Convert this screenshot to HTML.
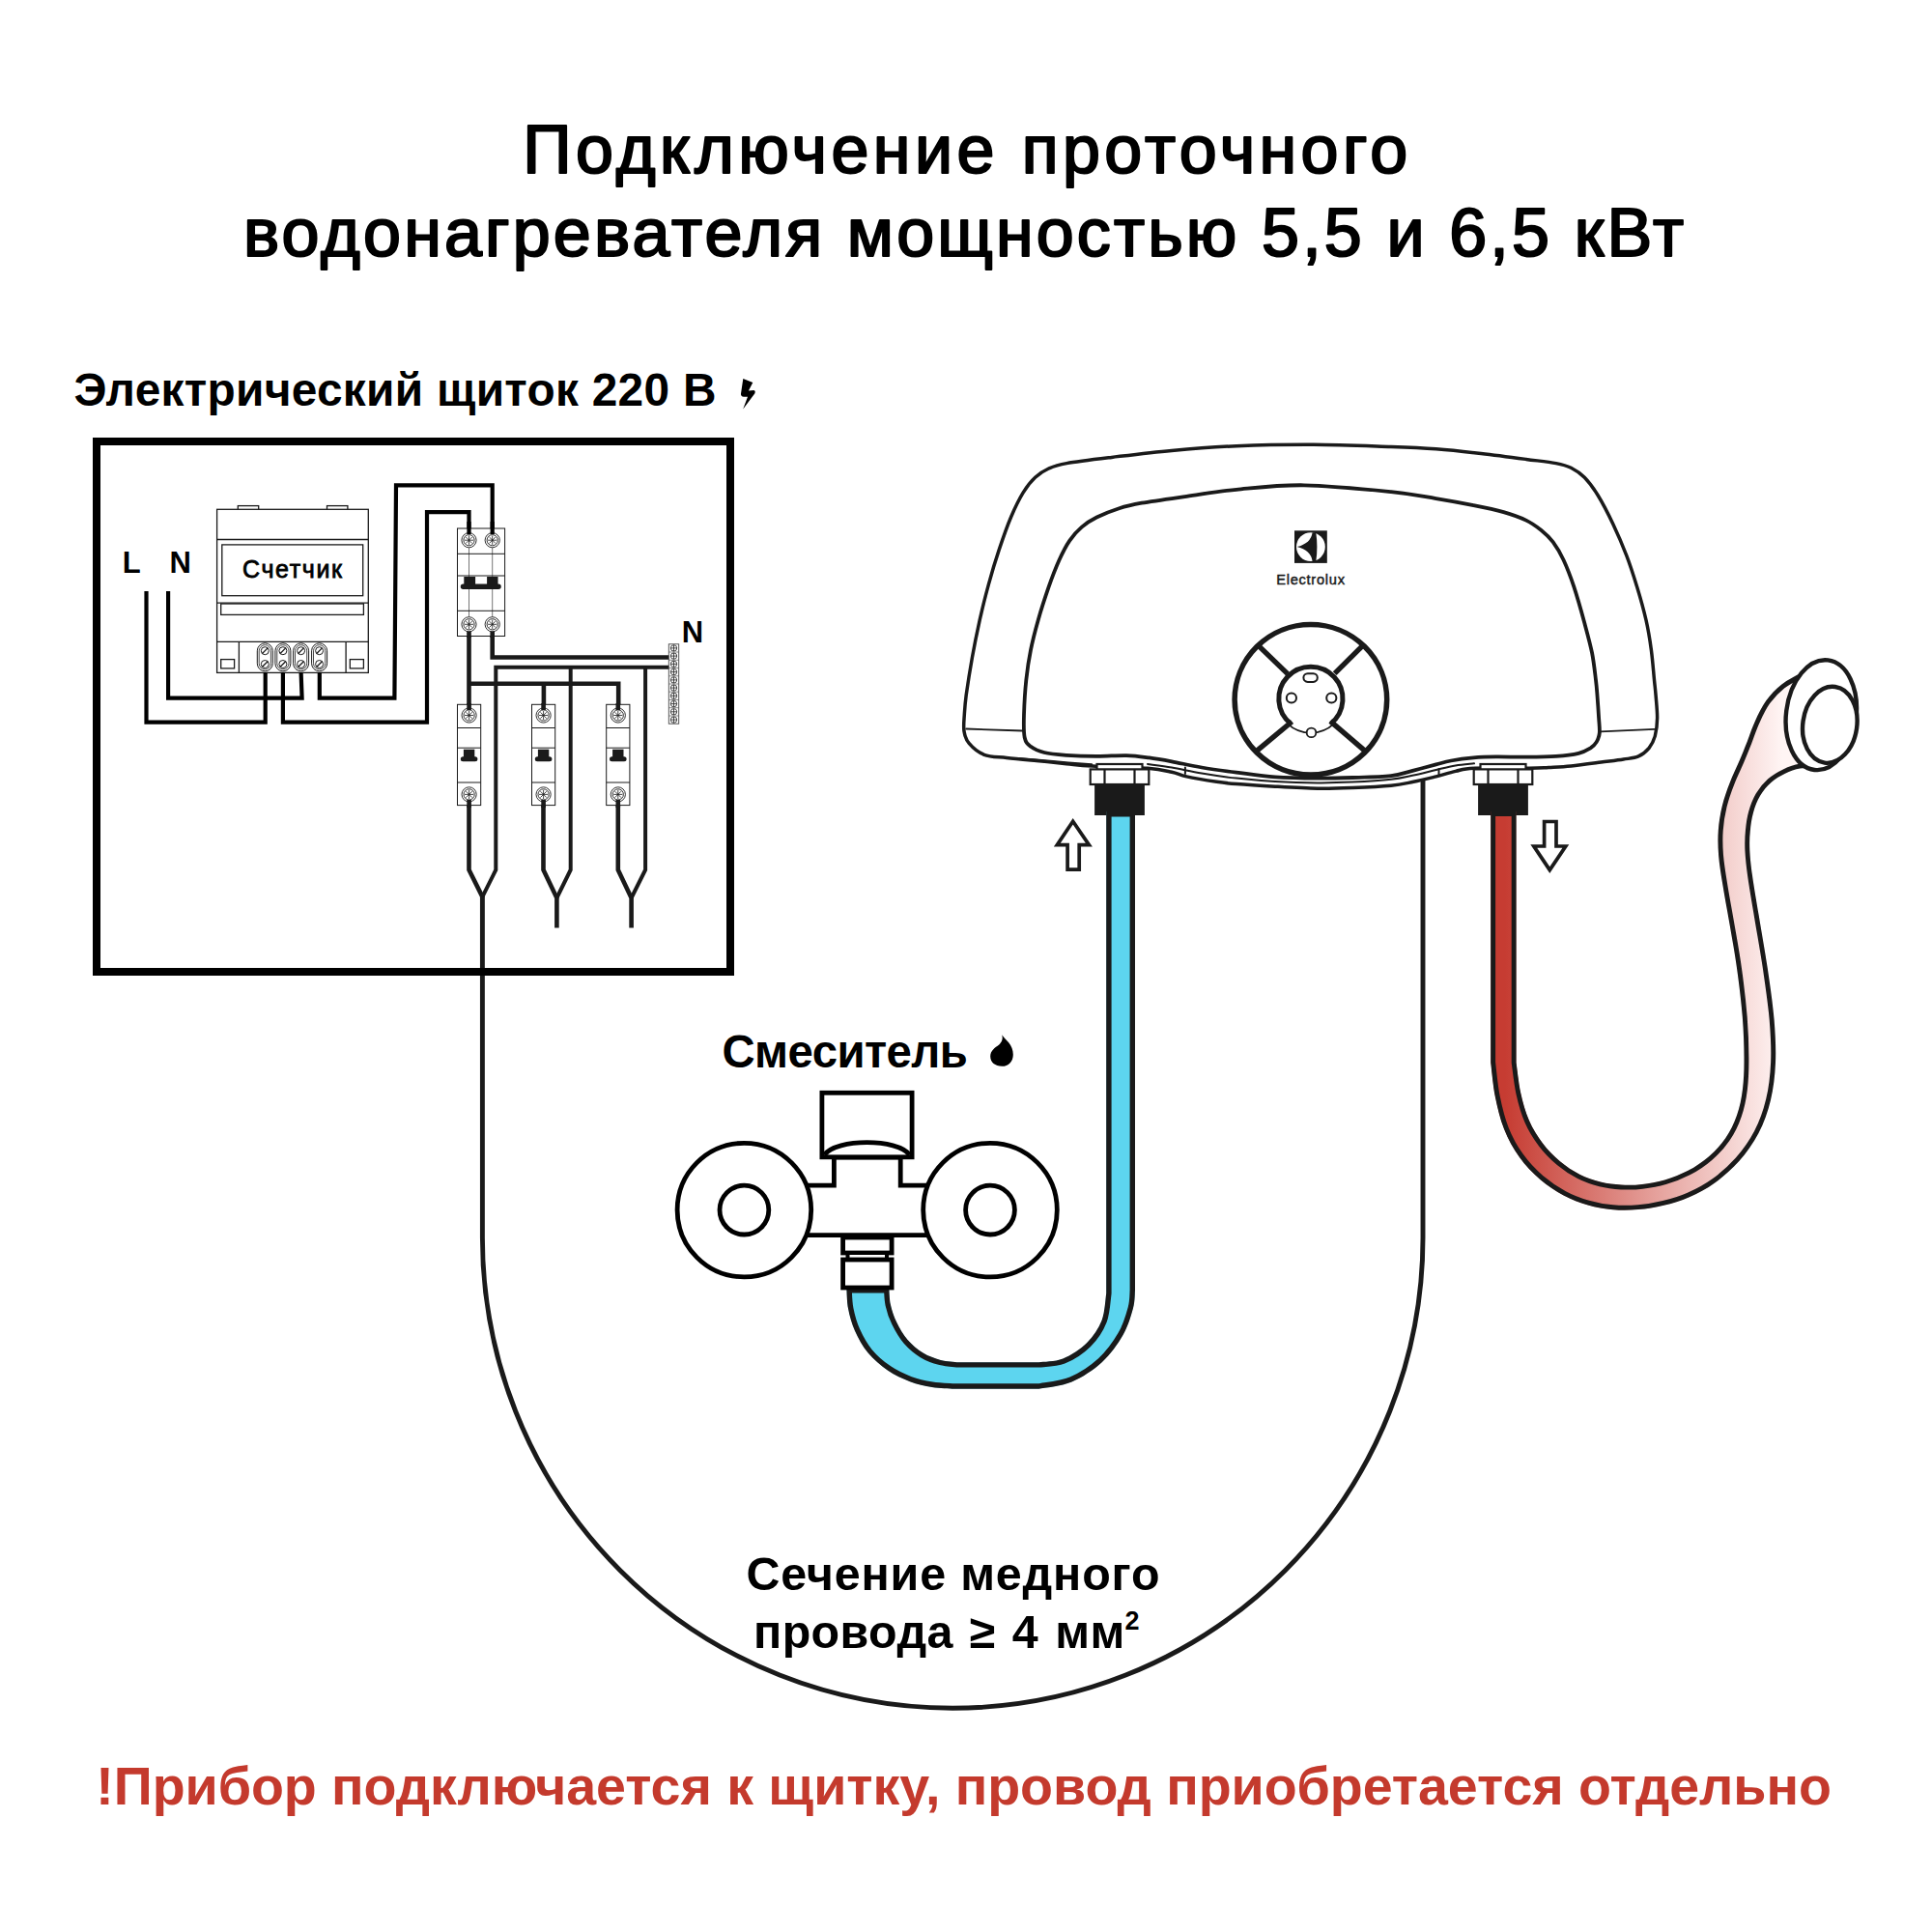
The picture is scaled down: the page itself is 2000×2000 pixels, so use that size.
<!DOCTYPE html>
<html lang="ru"><head><meta charset="utf-8"><title>Подключение проточного водонагревателя</title>
<style>
html,body{margin:0;padding:0;background:#fff;}
body{width:2000px;height:2000px;overflow:hidden;}
svg{display:block;}
text{font-family:"Liberation Sans",sans-serif;}
.t1{font-size:70px;fill:#000;stroke:#000;stroke-width:2.1px;stroke-linejoin:round;}
.b{font-weight:700;}
</style></head><body>
<svg width="2000" height="2000" viewBox="0 0 2000 2000">
<defs>
<linearGradient id="hg" gradientUnits="userSpaceOnUse" x1="1558" y1="0" x2="1845" y2="0">
<stop offset="0" stop-color="#c63c32"/><stop offset="1" stop-color="#fff5f4"/>
</linearGradient>
<g id="scr"><circle r="7.6" fill="#fff" stroke="#1a1a1a" stroke-width="0.9"/><circle r="5.6" fill="none" stroke="#1a1a1a" stroke-width="0.9"/><path d="M-4.6 0H4.6M0 -4.6V4.6M-3.2 -3.2L3.2 3.2M-3.2 3.2L3.2 -3.2" stroke="#1a1a1a" stroke-width="0.8" fill="none"/></g>
<g id="mscr"><circle r="4" fill="#fff" stroke="#1a1a1a" stroke-width="1"/><path d="M-2.8 2.8L2.8 -2.8" stroke="#1a1a1a" stroke-width="1.3"/></g>
<g id="nscr"><circle r="3.2" fill="#fff" stroke="#333" stroke-width="0.9"/><path d="M-3.2 0H3.2M0 -3.2V3.2" stroke="#333" stroke-width="0.9"/></g>
</defs>

<text class="t1" x="541.3" y="178.8" textLength="916" lengthAdjust="spacing">Подключение проточного</text>
<text class="t1" x="252" y="264.6" textLength="1491" lengthAdjust="spacing">водонагревателя мощностью 5,5 и 6,5 кВт</text>
<text class="b" x="76.5" y="420" font-size="47.8" textLength="665" lengthAdjust="spacing">Электрический щиток 220 В</text>
<path d="M769.3 392.1L779.3 396L774.9 404.4L780 404.1Q782.5 404.3 781.4 407.2L769.2 423.5L774 410.8L770 410.8Q766.6 410.5 767 407.5Z" fill="#000"/>
<path d="M499.4 928V1281.6A486.8 486.8 0 0 0 1473 1281.6V806" fill="none" stroke="#1a1a1a" stroke-width="4.9"/>
<rect x="100" y="457" width="656" height="549" fill="none" stroke="#000" stroke-width="8"/>
<g fill="#fff" stroke="#1a1a1a" stroke-width="1.3">
<rect x="246.3" y="523.6" width="21.4" height="5"/><rect x="338.5" y="523.6" width="21.4" height="5"/>
<rect x="224.6" y="527.3" width="156.7" height="169.1"/>
<path d="M224.6 558.5H381.3M224.6 624.2H381.3M224.6 664.3H381.3M247.4 664.3V696.4M358.1 664.3V696.4" fill="none"/>
<rect x="229.8" y="563.9" width="145.9" height="52.8"/>
<rect x="228.7" y="625" width="147.7" height="11.4"/>
<rect x="228.7" y="682.6" width="13.9" height="9.3"/><rect x="362.3" y="682.6" width="14.1" height="9.3"/>
<rect x="266.3" y="665.8" width="16" height="29" rx="8" stroke-width="1"/>
<rect x="268.2" y="667.7" width="12.2" height="25.2" rx="6.1" stroke-width="0.8"/>
<rect x="284.9" y="665.8" width="16" height="29" rx="8" stroke-width="1"/>
<rect x="286.8" y="667.7" width="12.2" height="25.2" rx="6.1" stroke-width="0.8"/>
<rect x="303.6" y="665.8" width="16" height="29" rx="8" stroke-width="1"/>
<rect x="305.5" y="667.7" width="12.2" height="25.2" rx="6.1" stroke-width="0.8"/>
<rect x="322.6" y="665.8" width="16" height="29" rx="8" stroke-width="1"/>
<rect x="324.5" y="667.7" width="12.2" height="25.2" rx="6.1" stroke-width="0.8"/>
</g>
<use href="#mscr" x="274.3" y="673.7"/><use href="#mscr" x="274.3" y="687.5"/>
<use href="#mscr" x="292.9" y="673.7"/><use href="#mscr" x="292.9" y="687.5"/>
<use href="#mscr" x="311.6" y="673.7"/><use href="#mscr" x="311.6" y="687.5"/>
<use href="#mscr" x="330.6" y="673.7"/><use href="#mscr" x="330.6" y="687.5"/>
<text x="251" y="598" font-size="25" textLength="103" lengthAdjust="spacing" stroke="#000" stroke-width="0.8">Счетчик</text>
<text class="b" x="126.8" y="593" font-size="31">L</text>
<text class="b" x="175.6" y="593" font-size="31">N</text>
<text class="b" x="705.7" y="665" font-size="31">N</text>
<g fill="none" stroke="#000" stroke-width="4.2" stroke-linejoin="miter">
<path d="M151.5 612V747.6H274.7V696"/>
<path d="M174.1 612V722.7H312.6L311.6 696"/>
<path d="M330.8 696V722.7H408.4L410 502.4H509.7V552"/>
<path d="M292.9 696V747.6H442V530.2H485.5V552"/>
</g>
<g fill="none" stroke="#1a1a1a" stroke-width="4.6" stroke-linejoin="miter">
<path d="M485.5 654V900.5L499.4 928.4"/>
<path d="M485.5 707.8H640.2V735M562.9 707.8V735"/>
<path d="M509.7 654V680.5H694"/>
<path d="M694 690.8H513.3V900.5L499.4 928.4M590.7 690.8V900.5L576.4 929.5M668.1 690.8V900.5L653.6 929.5" stroke-width="4"/>
<path d="M562.5 830V900.5L576.4 929.5V960.5M639.8 830V900.5L653.6 929.5V960.5"/>
</g>
<g fill="#fff" stroke="#1a1a1a" stroke-width="1">
<rect x="473.5" y="547" width="49.1" height="111.5"/>
<path d="M473.5 573.3H522.6M473.5 596H522.6M473.5 632.3H522.6" fill="none"/>
<path d="M485.5 567V639M509.7 567V639" fill="none" stroke-width="0.6"/>
</g>
<path d="M480.3 597H492.1V604.5H504.1V597H515.5V604.5H516A2.7 2.7 0 0 1 516 610H479.5A2.7 2.7 0 0 1 479.5 604.5H480.3Z" fill="#1a1a1a"/>
<use href="#scr" x="485.5" y="559.2"/>
<use href="#scr" x="509.7" y="559.2"/>
<use href="#scr" x="485.5" y="646.3"/>
<use href="#scr" x="509.7" y="646.3"/>
<g fill="none" stroke="#000" stroke-width="4.2"><path d="M509.7 540V553M485.5 540V553"/></g>
<g fill="none" stroke="#1a1a1a" stroke-width="4.6"><path d="M485.5 653.5V660M509.7 653.5V660"/></g>
<g fill="#fff" stroke="#1a1a1a" stroke-width="1">
<rect x="473.5" y="729.3" width="24.2" height="104.3"/>
<path d="M473.5 753.5h24.2M473.5 774.2h24.2M473.5 810h24.2" fill="none"/>
</g>
<path d="M479.9 775.7h11.4v7.5h0.6a2.5 2.5 0 0 1 0 5h-12.6a2.5 2.5 0 0 1 0 -5h0.6Z" fill="#1a1a1a"/>
<use href="#scr" x="485.6" y="740.5"/><use href="#scr" x="485.6" y="822.4"/>
<path d="M485.6 728V735M485.6 828V836" fill="none" stroke="#1a1a1a" stroke-width="4.6"/>
<g fill="#fff" stroke="#1a1a1a" stroke-width="1">
<rect x="550.5" y="729.3" width="24.2" height="104.3"/>
<path d="M550.5 753.5h24.2M550.5 774.2h24.2M550.5 810h24.2" fill="none"/>
</g>
<path d="M556.9 775.7h11.4v7.5h0.6a2.5 2.5 0 0 1 0 5h-12.6a2.5 2.5 0 0 1 0 -5h0.6Z" fill="#1a1a1a"/>
<use href="#scr" x="562.6" y="740.5"/><use href="#scr" x="562.6" y="822.4"/>
<path d="M562.6 728V735M562.6 828V836" fill="none" stroke="#1a1a1a" stroke-width="4.6"/>
<g fill="#fff" stroke="#1a1a1a" stroke-width="1">
<rect x="627.7" y="729.3" width="24.2" height="104.3"/>
<path d="M627.7 753.5h24.2M627.7 774.2h24.2M627.7 810h24.2" fill="none"/>
</g>
<path d="M634.1 775.7h11.4v7.5h0.6a2.5 2.5 0 0 1 0 5h-12.6a2.5 2.5 0 0 1 0 -5h0.6Z" fill="#1a1a1a"/>
<use href="#scr" x="639.8" y="740.5"/><use href="#scr" x="639.8" y="822.4"/>
<path d="M639.8 728V735M639.8 828V836" fill="none" stroke="#1a1a1a" stroke-width="4.6"/>
<rect x="692.3" y="666.8" width="10.4" height="82.4" fill="#fff" stroke="#444" stroke-width="0.9"/>
<path d="M692.3 675.0h10.4M692.3 683.3h10.4M692.3 691.5h10.4M692.3 699.8h10.4M692.3 708.0h10.4M692.3 716.2h10.4M692.3 724.5h10.4M692.3 732.7h10.4M692.3 741.0h10.4" fill="none" stroke="#555" stroke-width="0.7"/>
<use href="#nscr" x="697.5" y="670.9"/>
<use href="#nscr" x="697.5" y="679.1"/>
<use href="#nscr" x="697.5" y="687.4"/>
<use href="#nscr" x="697.5" y="695.6"/>
<use href="#nscr" x="697.5" y="703.9"/>
<use href="#nscr" x="697.5" y="712.1"/>
<use href="#nscr" x="697.5" y="720.3"/>
<use href="#nscr" x="697.5" y="728.6"/>
<use href="#nscr" x="697.5" y="736.8"/>
<use href="#nscr" x="697.5" y="745.1"/>
<g fill="#fff" stroke="#1a1a1a" stroke-width="3.5" stroke-linejoin="round" stroke-linecap="round">
<path d="M998.3 740.0 C998.7 733.8 998.9 729.4 1000.2 719.5 C1001.6 709.6 1004.1 693.6 1006.4 680.7 C1008.7 667.8 1011.4 654.6 1014.2 641.9 C1017.1 629.2 1020.1 616.8 1023.5 604.6 C1026.8 592.4 1030.4 580.5 1034.3 568.9 C1038.2 557.2 1042.6 544.5 1046.8 534.7 C1051.0 524.9 1055.1 516.6 1059.2 509.9 C1063.3 503.2 1067.2 498.4 1071.6 494.3 C1076.0 490.2 1080.2 487.4 1085.6 485.0 C1091.0 482.6 1093.3 481.5 1104.2 479.6 C1115.1 477.7 1132.7 475.6 1150.8 473.4 C1168.9 471.2 1191.4 468.3 1212.9 466.4 C1234.4 464.4 1255.5 462.7 1280.0 461.7 C1304.5 460.7 1333.3 460.2 1360.0 460.3 C1386.7 460.4 1418.9 461.8 1440.0 462.5 C1461.1 463.2 1471.1 463.6 1486.6 464.8 C1502.1 466.0 1517.7 467.7 1533.2 469.5 C1548.7 471.3 1566.9 473.7 1579.8 475.4 C1592.7 477.1 1603.0 478.1 1610.8 479.6 C1618.5 481.1 1621.4 481.9 1626.3 484.3 C1631.2 486.8 1635.6 489.5 1640.3 494.3 C1645.0 499.1 1649.4 505.0 1654.3 513.0 C1659.2 521.0 1664.9 532.1 1669.8 542.5 C1674.7 552.9 1679.6 564.2 1683.8 575.1 C1688.0 586.0 1691.3 596.6 1694.7 607.7 C1698.1 618.8 1701.5 631.0 1704.0 641.9 C1706.5 652.8 1708.0 662.5 1709.4 672.9 C1710.8 683.2 1711.7 696.1 1712.5 704.0 C1713.3 711.9 1713.6 713.5 1714.1 720.0 C1714.6 726.5 1715.7 736.3 1715.6 743.3 C1715.5 750.3 1714.7 756.7 1713.3 761.9 C1711.9 767.1 1709.9 770.8 1707.1 774.3 C1704.2 777.8 1700.6 780.9 1696.2 782.9 C1691.8 784.9 1687.2 785.0 1680.7 786.0 C1674.2 787.0 1666.5 787.9 1657.4 789.1 C1648.3 790.3 1635.4 792.1 1626.3 793.0 C1617.2 793.9 1610.2 794.1 1603.0 794.5 C1595.8 794.9 1595.7 795.2 1582.9 795.3 C1570.1 795.4 1538.9 794.8 1526.2 795.3 C1513.5 795.8 1513.4 797.0 1506.8 798.4 C1500.2 799.8 1493.8 802.1 1486.6 803.9 C1479.3 805.7 1471.1 807.8 1463.3 809.3 C1455.5 810.8 1450.5 812.2 1440.0 813.2 C1429.5 814.2 1412.7 815.0 1400.0 815.5 C1387.3 816.0 1377.3 816.4 1364.0 816.2 C1350.7 816.0 1334.0 815.0 1320.0 814.2 C1306.0 813.4 1290.1 812.4 1280.0 811.6 C1269.9 810.8 1268.1 810.6 1259.5 809.3 C1250.9 808.0 1236.2 805.6 1228.4 803.9 C1220.7 802.2 1219.7 800.6 1213.0 799.2 C1206.3 797.8 1201.7 796.3 1188.0 795.3 C1174.3 794.3 1144.6 793.8 1130.6 793.0 C1116.6 792.2 1113.6 791.6 1104.0 790.7 C1094.4 789.8 1083.3 788.5 1073.0 787.5 C1062.7 786.5 1051.0 785.4 1042.0 784.4 C1033.0 783.4 1025.2 783.8 1018.8 781.3 C1012.3 778.8 1006.8 773.8 1003.3 769.7 C999.8 765.7 998.8 762.0 998.0 757.0 C997.2 752.0 997.9 746.2 998.3 740.0Z"/>
<path d="M1054.5 785.2 C1060.4 785.7 1077.4 787.2 1090.0 788.3 C1102.6 789.3 1123.3 791.0 1130.0 791.5" fill="none" stroke-width="2.4"/>
<path d="M1188.0 791.0 C1192.2 791.6 1203.7 792.9 1213.0 794.5 C1222.3 796.1 1232.8 798.6 1244.0 800.5 C1255.2 802.4 1267.3 804.2 1280.0 805.6 C1292.7 807.0 1306.0 808.2 1320.0 809.0 C1334.0 809.8 1350.7 810.3 1364.0 810.4 C1377.3 810.5 1387.3 810.2 1400.0 809.6 C1412.7 809.0 1429.5 808.0 1440.0 806.8 C1450.5 805.6 1455.5 804.1 1463.3 802.5 C1471.1 800.9 1479.3 798.7 1486.6 797.0 C1493.8 795.3 1500.2 793.6 1506.8 792.5 C1513.4 791.4 1522.8 790.7 1526.0 790.3" fill="none" stroke-width="2"/>
<path d="M1226.9 794.5V801M1489.5 796V802.5" fill="none" stroke-width="2"/>
<path d="M1060.0 740.0 C1060.3 730.1 1061.1 715.2 1062.3 704.0 C1063.5 692.8 1064.9 683.2 1067.0 672.9 C1069.1 662.5 1071.6 652.8 1074.7 641.9 C1077.8 631.0 1082.0 618.1 1085.6 607.7 C1089.2 597.4 1092.9 587.8 1096.5 579.8 C1100.1 571.8 1103.4 565.3 1107.3 559.6 C1111.2 553.9 1115.1 549.6 1119.8 545.6 C1124.5 541.6 1128.8 538.7 1135.3 535.5 C1141.8 532.3 1150.8 528.7 1158.6 526.2 C1166.4 523.7 1170.3 522.8 1181.9 520.7 C1193.5 518.6 1212.1 516.1 1228.4 513.8 C1244.8 511.5 1259.7 508.7 1280.0 506.8 C1300.3 504.9 1323.3 501.9 1350.0 502.3 C1376.7 502.7 1417.2 506.8 1440.0 509.1 C1462.8 511.4 1472.4 513.8 1486.6 516.1 C1500.8 518.4 1513.8 520.8 1525.4 523.1 C1537.1 525.4 1547.4 527.5 1556.5 530.1 C1565.6 532.7 1573.3 535.5 1579.8 538.6 C1586.3 541.7 1590.6 545.0 1595.3 548.7 C1600.0 552.5 1603.8 555.9 1607.7 561.1 C1611.6 566.3 1615.0 572.0 1618.6 579.8 C1622.2 587.6 1625.8 596.8 1629.4 607.7 C1633.0 618.6 1637.2 633.6 1640.3 645.0 C1643.4 656.4 1646.1 666.2 1648.1 676.0 C1650.0 685.8 1651.1 696.7 1652.0 704.0 C1652.9 711.3 1653.0 713.5 1653.5 720.0 C1654.0 726.5 1654.7 736.8 1655.1 743.3 C1655.5 749.8 1656.2 754.7 1655.8 758.8 C1655.4 762.9 1654.2 765.5 1652.7 768.1 C1651.2 770.7 1649.6 772.3 1646.5 774.3 C1643.4 776.2 1640.0 778.4 1634.1 779.8 C1628.1 781.2 1619.8 782.2 1610.8 782.9 C1601.8 783.5 1590.1 783.6 1579.8 783.7 C1569.5 783.8 1557.8 783.3 1548.7 783.4 C1539.6 783.5 1533.2 783.7 1525.4 784.4 C1517.6 785.1 1508.6 786.3 1502.1 787.5 C1495.6 788.7 1493.1 789.7 1486.6 791.4 C1480.1 793.1 1471.1 795.6 1463.3 797.6 C1455.5 799.6 1450.5 801.9 1440.0 803.1 C1429.5 804.3 1412.7 804.6 1400.0 805.0 C1387.3 805.4 1377.3 805.7 1364.0 805.6 C1350.7 805.5 1334.0 805.3 1320.0 804.3 C1306.0 803.3 1292.7 801.2 1280.0 799.6 C1267.3 798.0 1255.2 796.4 1244.0 794.5 C1232.8 792.6 1222.1 790.0 1213.0 788.3 C1203.9 786.6 1197.4 785.4 1189.6 784.4 C1181.8 783.4 1175.1 782.4 1166.0 782.1 C1156.9 781.9 1145.3 783.0 1135.0 782.9 C1124.7 782.8 1113.0 782.4 1104.0 781.8 C1095.0 781.1 1087.2 780.5 1081.0 779.0 C1074.8 777.5 1070.4 775.4 1067.0 772.8 C1063.6 770.2 1061.9 769.0 1060.7 763.5 C1059.5 758.0 1059.7 749.9 1060.0 740.0Z" stroke-width="3.8"/>
<path d="M1000.2 754.5L1058.4 756.5M1656.6 757.3L1712.5 754.9" fill="none" stroke-width="1.8"/>
</g>
<g fill="none" stroke="#1a1a1a">
<ellipse cx="1356.9" cy="724.3" rx="78.8" ry="77.8" stroke-width="5.5" fill="#fff"/>
<path d="M1336.1 749.1A33.1 33.1 0 1 1 1377.7 749.1" stroke-width="5"/>
<path d="M1332.8 749.2A35.3 35.3 0 0 0 1381.0 749.2" stroke-width="1.7"/>
<path d="M1303.0 668.6L1333.0 697.6" stroke-width="5.4"/>
<path d="M1410.4 668.6L1381.7 697.2" stroke-width="5.4"/>
<path d="M1300.6 777.6L1337.4 747.0" stroke-width="5.4"/>
<path d="M1413.4 777.6L1377.2 746.6" stroke-width="5.4"/>
<circle cx="1336.9" cy="722.5" r="5.1" stroke-width="2" fill="#fff"/><circle cx="1378.3" cy="722.5" r="5.1" stroke-width="2" fill="#fff"/><circle cx="1357.5" cy="758.4" r="4.8" stroke-width="1.8" fill="#fff"/>
<rect x="1349.4" y="697.3" width="14.4" height="8.6" rx="4.3" stroke-width="2" fill="#fff"/>
</g>
<rect x="1340" y="549.3" width="33.8" height="33.6" fill="#1a1a1a"/>
<circle cx="1356.9" cy="566.1" r="14.9" fill="#fff"/>
<path d="M1358.6 551.2Q1357 562.5 1342.6 566.1Q1357 569.7 1358.6 581H1362.3Q1364.5 566.1 1362.3 551.2Z" fill="#1a1a1a"/>
<text x="1321.2" y="605.2" font-size="14.6" textLength="70.8" lengthAdjust="spacing" stroke="#1a1a1a" stroke-width="0.45" fill="#1a1a1a">Electrolux</text>
<g fill="#fff" stroke="#1a1a1a" stroke-width="2.2">
<rect x="1135.5" y="791" width="47" height="6"/>
<rect x="1128.7" y="796.4" width="60.6" height="15.6"/>
<path d="M1143.5 796.4v15.6M1174.5 796.4v15.6" fill="none"/>
</g>
<rect x="1133.1" y="812" width="51.8" height="32" fill="#1a1a1a"/>
<g fill="#fff" stroke="#1a1a1a" stroke-width="2.2">
<rect x="1532.5" y="791" width="47" height="6"/>
<rect x="1525.7" y="796.4" width="60.6" height="15.6"/>
<path d="M1540.5 796.4v15.6M1571.5 796.4v15.6" fill="none"/>
</g>
<rect x="1530.1" y="812" width="51.8" height="32" fill="#1a1a1a"/>
<clipPath id="cb"><path d="M1175.0 840.0 L1175.0 1335.7 C1174.7 1338.8 1175.1 1346.5 1173.0 1354.3 C1170.9 1362.1 1167.8 1373.0 1162.4 1382.3 C1157.0 1391.6 1149.5 1402.2 1140.7 1410.2 C1131.9 1418.2 1120.5 1425.8 1109.6 1430.4 C1098.7 1435.0 1081.2 1436.5 1075.5 1437.7 L987.4 1437.7 C983.6 1437.4 972.3 1437.2 964.7 1435.9 C957.1 1434.7 949.5 1433.1 941.9 1430.2 C934.3 1427.3 926.3 1423.7 919.1 1418.8 C911.9 1413.9 904.3 1407.4 898.6 1400.6 C892.9 1393.8 888.4 1385.4 885.0 1377.8 C881.6 1370.2 879.6 1362.6 878.1 1355.1 C876.6 1347.6 876.6 1336.7 876.3 1333.0 L920.3 1333.0 C920.6 1335.9 920.6 1344.5 921.9 1350.5 C923.2 1356.5 925.2 1362.6 928.2 1368.7 C931.2 1374.8 935.0 1381.7 939.6 1387.0 C944.2 1392.3 949.9 1397.1 955.6 1400.6 C961.3 1404.1 967.7 1406.3 973.8 1407.9 C979.9 1409.5 989.0 1409.8 992.0 1410.2 L1075.5 1410.2 C1079.6 1409.6 1092.0 1409.8 1100.3 1406.5 C1108.6 1403.2 1118.5 1396.7 1125.2 1390.1 C1131.9 1383.5 1137.3 1375.3 1140.6 1366.8 C1143.9 1358.2 1144.4 1343.5 1145.2 1338.8 L1145.2 840.0 Z"/></clipPath>
<path d="M1175.0 840.0 L1175.0 1335.7 C1174.7 1338.8 1175.1 1346.5 1173.0 1354.3 C1170.9 1362.1 1167.8 1373.0 1162.4 1382.3 C1157.0 1391.6 1149.5 1402.2 1140.7 1410.2 C1131.9 1418.2 1120.5 1425.8 1109.6 1430.4 C1098.7 1435.0 1081.2 1436.5 1075.5 1437.7 L987.4 1437.7 C983.6 1437.4 972.3 1437.2 964.7 1435.9 C957.1 1434.7 949.5 1433.1 941.9 1430.2 C934.3 1427.3 926.3 1423.7 919.1 1418.8 C911.9 1413.9 904.3 1407.4 898.6 1400.6 C892.9 1393.8 888.4 1385.4 885.0 1377.8 C881.6 1370.2 879.6 1362.6 878.1 1355.1 C876.6 1347.6 876.6 1336.7 876.3 1333.0 L920.3 1333.0 C920.6 1335.9 920.6 1344.5 921.9 1350.5 C923.2 1356.5 925.2 1362.6 928.2 1368.7 C931.2 1374.8 935.0 1381.7 939.6 1387.0 C944.2 1392.3 949.9 1397.1 955.6 1400.6 C961.3 1404.1 967.7 1406.3 973.8 1407.9 C979.9 1409.5 989.0 1409.8 992.0 1410.2 L1075.5 1410.2 C1079.6 1409.6 1092.0 1409.8 1100.3 1406.5 C1108.6 1403.2 1118.5 1396.7 1125.2 1390.1 C1131.9 1383.5 1137.3 1375.3 1140.6 1366.8 C1143.9 1358.2 1144.4 1343.5 1145.2 1338.8 L1145.2 840.0 Z" fill="#5dd5ef" stroke="#1a1a1a" stroke-width="10.8" stroke-linejoin="round" clip-path="url(#cb)"/>
<clipPath id="cr"><path d="M1543.2 840.0 L1543.2 1100.0 C1544.0 1105.9 1545.5 1123.8 1547.8 1135.2 C1550.1 1146.6 1552.8 1158.2 1557.0 1168.7 C1561.1 1179.1 1566.5 1189.0 1572.8 1197.7 C1579.0 1206.4 1586.7 1214.4 1594.3 1221.0 C1602.0 1227.6 1610.4 1233.1 1618.6 1237.5 C1626.8 1241.9 1635.1 1245.0 1643.7 1247.5 C1652.2 1250.0 1660.9 1251.5 1669.6 1252.2 C1678.3 1253.0 1687.2 1252.9 1696.0 1252.1 C1704.8 1251.4 1713.6 1250.0 1722.4 1247.8 C1731.2 1245.7 1740.0 1243.1 1748.8 1239.2 C1757.6 1235.4 1766.6 1230.7 1775.2 1224.5 C1783.8 1218.3 1792.7 1210.6 1800.3 1202.1 C1807.8 1193.5 1815.0 1183.6 1820.5 1173.0 C1826.0 1162.5 1830.1 1150.9 1833.0 1138.7 C1835.9 1126.6 1837.4 1114.0 1838.0 1100.1 C1838.6 1086.3 1837.9 1071.9 1836.6 1055.6 C1835.2 1039.3 1832.4 1020.3 1829.8 1002.4 C1827.1 984.5 1823.4 964.1 1820.8 948.1 C1818.1 932.1 1815.6 917.6 1814.0 906.2 C1812.4 894.9 1811.7 887.7 1811.3 880.0 C1811.0 872.3 1811.1 866.8 1811.8 860.3 C1812.4 853.8 1813.2 847.3 1815.0 841.2 C1816.7 835.1 1819.0 829.0 1822.1 823.8 C1825.2 818.6 1829.2 813.8 1833.5 810.0 C1837.8 806.1 1843.0 803.2 1848.0 800.8 C1853.0 798.4 1858.2 796.4 1863.5 795.6 C1868.8 794.8 1877.2 795.9 1880.0 796.0 L1880.0 692.0 C1877.4 692.8 1870.5 693.9 1864.6 696.7 C1858.7 699.5 1850.4 703.8 1844.4 708.5 C1838.3 713.3 1832.9 719.0 1828.3 725.2 C1823.8 731.5 1820.2 739.1 1817.0 746.2 C1813.7 753.2 1811.4 760.7 1808.7 767.7 C1805.9 774.6 1803.4 781.1 1800.4 788.1 C1797.4 795.1 1793.7 802.2 1790.8 809.9 C1787.8 817.5 1784.8 825.9 1782.8 834.2 C1780.8 842.5 1779.4 851.2 1778.8 859.7 C1778.2 868.3 1778.4 876.2 1779.1 885.4 C1779.9 894.6 1781.3 903.5 1783.2 915.0 C1785.0 926.6 1787.6 939.9 1790.1 954.6 C1792.6 969.2 1795.9 986.6 1798.1 1003.0 C1800.4 1019.3 1802.5 1037.4 1803.8 1052.8 C1805.0 1068.1 1805.5 1082.7 1805.5 1095.1 C1805.6 1107.5 1805.2 1117.4 1804.0 1127.3 C1802.8 1137.2 1801.0 1146.0 1798.0 1154.5 C1795.1 1163.1 1791.0 1171.2 1786.2 1178.3 C1781.3 1185.4 1775.5 1191.7 1769.0 1197.2 C1762.6 1202.8 1755.1 1207.7 1747.5 1211.8 C1739.8 1215.8 1731.2 1219.1 1723.3 1221.4 C1715.4 1223.8 1707.4 1225.1 1699.9 1225.9 C1692.5 1226.8 1685.6 1226.9 1678.4 1226.5 C1671.2 1226.1 1664.0 1225.3 1656.8 1223.5 C1649.7 1221.7 1642.2 1219.2 1635.3 1215.7 C1628.3 1212.2 1621.4 1207.6 1615.0 1202.3 C1608.6 1196.9 1602.3 1190.7 1597.0 1183.6 C1591.7 1176.5 1586.7 1168.6 1582.9 1159.8 C1579.1 1151.1 1576.4 1141.2 1574.2 1131.2 C1572.0 1121.3 1570.4 1105.2 1569.6 1100.0 L1569.6 840.0 Z"/></clipPath>
<path d="M1543.2 840.0 L1543.2 1100.0 C1544.0 1105.9 1545.5 1123.8 1547.8 1135.2 C1550.1 1146.6 1552.8 1158.2 1557.0 1168.7 C1561.1 1179.1 1566.5 1189.0 1572.8 1197.7 C1579.0 1206.4 1586.7 1214.4 1594.3 1221.0 C1602.0 1227.6 1610.4 1233.1 1618.6 1237.5 C1626.8 1241.9 1635.1 1245.0 1643.7 1247.5 C1652.2 1250.0 1660.9 1251.5 1669.6 1252.2 C1678.3 1253.0 1687.2 1252.9 1696.0 1252.1 C1704.8 1251.4 1713.6 1250.0 1722.4 1247.8 C1731.2 1245.7 1740.0 1243.1 1748.8 1239.2 C1757.6 1235.4 1766.6 1230.7 1775.2 1224.5 C1783.8 1218.3 1792.7 1210.6 1800.3 1202.1 C1807.8 1193.5 1815.0 1183.6 1820.5 1173.0 C1826.0 1162.5 1830.1 1150.9 1833.0 1138.7 C1835.9 1126.6 1837.4 1114.0 1838.0 1100.1 C1838.6 1086.3 1837.9 1071.9 1836.6 1055.6 C1835.2 1039.3 1832.4 1020.3 1829.8 1002.4 C1827.1 984.5 1823.4 964.1 1820.8 948.1 C1818.1 932.1 1815.6 917.6 1814.0 906.2 C1812.4 894.9 1811.7 887.7 1811.3 880.0 C1811.0 872.3 1811.1 866.8 1811.8 860.3 C1812.4 853.8 1813.2 847.3 1815.0 841.2 C1816.7 835.1 1819.0 829.0 1822.1 823.8 C1825.2 818.6 1829.2 813.8 1833.5 810.0 C1837.8 806.1 1843.0 803.2 1848.0 800.8 C1853.0 798.4 1858.2 796.4 1863.5 795.6 C1868.8 794.8 1877.2 795.9 1880.0 796.0 L1880.0 692.0 C1877.4 692.8 1870.5 693.9 1864.6 696.7 C1858.7 699.5 1850.4 703.8 1844.4 708.5 C1838.3 713.3 1832.9 719.0 1828.3 725.2 C1823.8 731.5 1820.2 739.1 1817.0 746.2 C1813.7 753.2 1811.4 760.7 1808.7 767.7 C1805.9 774.6 1803.4 781.1 1800.4 788.1 C1797.4 795.1 1793.7 802.2 1790.8 809.9 C1787.8 817.5 1784.8 825.9 1782.8 834.2 C1780.8 842.5 1779.4 851.2 1778.8 859.7 C1778.2 868.3 1778.4 876.2 1779.1 885.4 C1779.9 894.6 1781.3 903.5 1783.2 915.0 C1785.0 926.6 1787.6 939.9 1790.1 954.6 C1792.6 969.2 1795.9 986.6 1798.1 1003.0 C1800.4 1019.3 1802.5 1037.4 1803.8 1052.8 C1805.0 1068.1 1805.5 1082.7 1805.5 1095.1 C1805.6 1107.5 1805.2 1117.4 1804.0 1127.3 C1802.8 1137.2 1801.0 1146.0 1798.0 1154.5 C1795.1 1163.1 1791.0 1171.2 1786.2 1178.3 C1781.3 1185.4 1775.5 1191.7 1769.0 1197.2 C1762.6 1202.8 1755.1 1207.7 1747.5 1211.8 C1739.8 1215.8 1731.2 1219.1 1723.3 1221.4 C1715.4 1223.8 1707.4 1225.1 1699.9 1225.9 C1692.5 1226.8 1685.6 1226.9 1678.4 1226.5 C1671.2 1226.1 1664.0 1225.3 1656.8 1223.5 C1649.7 1221.7 1642.2 1219.2 1635.3 1215.7 C1628.3 1212.2 1621.4 1207.6 1615.0 1202.3 C1608.6 1196.9 1602.3 1190.7 1597.0 1183.6 C1591.7 1176.5 1586.7 1168.6 1582.9 1159.8 C1579.1 1151.1 1576.4 1141.2 1574.2 1131.2 C1572.0 1121.3 1570.4 1105.2 1569.6 1100.0 L1569.6 840.0 Z" fill="url(#hg)" stroke="#1a1a1a" stroke-width="9.8" stroke-linejoin="round" clip-path="url(#cr)"/>
<g fill="#fff" stroke="#1a1a1a" stroke-width="4.4">
<ellipse cx="1885.3" cy="740.2" rx="36.3" ry="57.2" transform="rotate(7 1885.3 740.2)"/>
<ellipse cx="1894.3" cy="750.3" rx="28" ry="39.7" transform="rotate(8 1894.3 750.3)"/>
</g>
<path d="M1110.7 850.2L1127.4 874.7H1117.2V900.1H1105.1V874.7H1094.3Z" fill="#fff" stroke="#1a1a1a" stroke-width="3.7"/>
<path d="M1604.3 900.6L1587.8 876H1598.6V850.5H1611V876H1620.8Z" fill="#fff" stroke="#1a1a1a" stroke-width="3.7"/>
<g fill="#fff" stroke="#000" stroke-width="4.8">
<path d="M820 1227.2H863.4V1198H932.2V1227.2H975V1278.6H820Z"/>
<circle cx="770.4" cy="1252.6" r="69.3"/><circle cx="770.4" cy="1252.6" r="25.4"/>
<circle cx="1025" cy="1252.6" r="69.3"/><circle cx="1025" cy="1252.6" r="25.4"/>
<rect x="850.9" y="1131.3" width="93.2" height="66.5"/>
<path d="M853.3 1195.5C866 1178.3 929 1178.3 941.7 1195.5" fill="none"/>
<rect x="872.6" y="1281" width="50.5" height="16"/>
<rect x="877.5" y="1297" width="40.5" height="7" stroke-width="4"/>
<rect x="872.6" y="1304" width="50.5" height="29"/>
</g>
<text class="b" x="747.5" y="1104.9" font-size="47.3" textLength="254.4" lengthAdjust="spacing">Смеситель</text>
<path d="M1037.2 1071.3C1040 1075 1042 1077 1044.2 1079.3C1047 1082.5 1048.8 1087 1048.8 1091.7C1048.8 1099 1044 1103.8 1037.3 1103.8C1030 1103.8 1025.2 1099.5 1025.2 1093.5C1025.2 1087.5 1030 1084.5 1034.2 1081.4C1037 1079 1038.5 1075.5 1037.2 1071.3Z" fill="#000"/>
<text class="b" x="772.5" y="1646" font-size="48.4" textLength="428" lengthAdjust="spacing">Сечение медного</text>
<text class="b" x="780" y="1705.5" font-size="48.4" style="word-spacing:3.2px;letter-spacing:0.4px">провода ≥ 4 мм<tspan font-size="27" dy="-19">2</tspan></text>
<text class="b" x="99.3" y="1868.3" font-size="55.6" textLength="1796.6" lengthAdjust="spacing" fill="#c43a2d">!Прибор подключается к щитку, провод приобретается отдельно</text>
</svg></body></html>
